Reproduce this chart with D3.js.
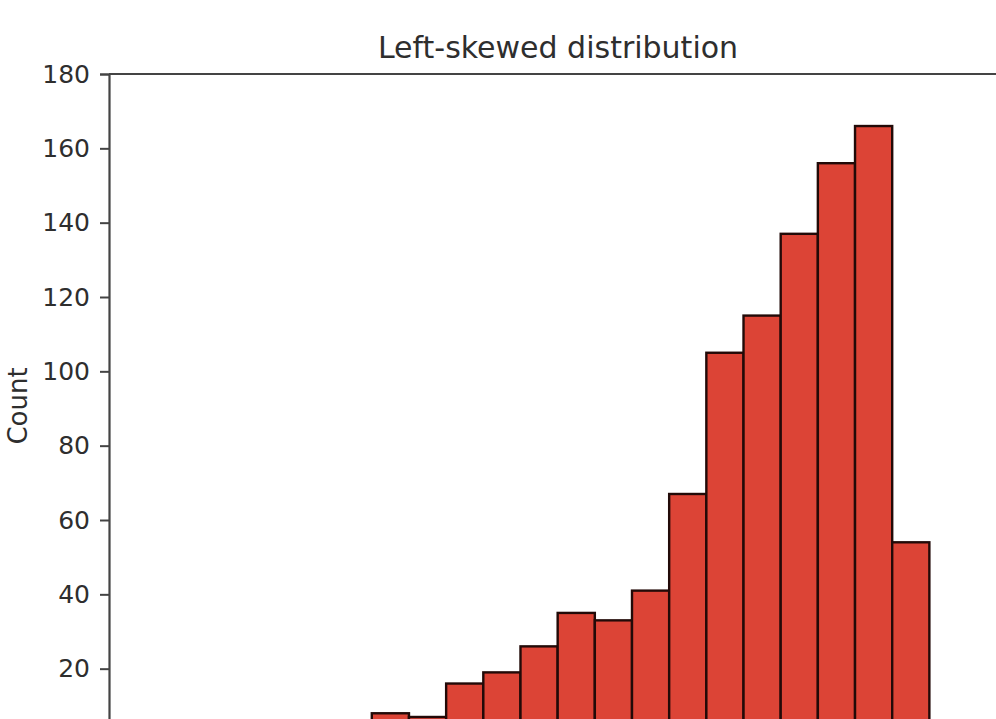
<!DOCTYPE html>
<html>
<head>
<meta charset="utf-8">
<script src="https://cdn.jsdelivr.net/npm/d3@7"></script>
<style>
  html, body { margin: 0; padding: 0; background: #fff; overflow: hidden; }
  svg { display: block; }
</style>
</head>
<body>
<svg id="chart" width="996" height="719"></svg>
<script>
// Data (bin edges as bin index, counts)
const binStarts = [0, 1, 2, 3, 4, 5, 6, 7, 8, 9, 10, 11, 12, 13, 14];
const counts    = [8, 7, 16, 19, 26, 35, 33, 41, 67, 105, 115, 137, 156, 166, 54];
const yTicks    = [20, 40, 60, 80, 100, 120, 140, 160, 180];
const titleText = "Left-skewed distribution";
const yLabel    = "Count";

(function () {
const svg = d3.select("#chart");
const mLeft = 109, mRight = 1000, mTop = 74, zeroY = 743;

const x = d3.scaleLinear().domain([-7.07, 16.9]).range([mLeft, mRight]);
const y = d3.scaleLinear().domain([0, 180]).range([zeroY, mTop]);

// bars
svg.append("g").selectAll("rect")
  .data(binStarts.map((b, i) => ({ b, c: counts[i] })))
  .join("rect")
  .attr("x", d => x(d.b))
  .attr("width", d => x(d.b + 1) - x(d.b))
  .attr("y", d => y(d.c))
  .attr("height", d => y(0) - y(d.c))
  .attr("fill", "#dc4436")
  .attr("stroke", "#220a08")
  .attr("stroke-width", 2.4);

// y axis
const yAxis = d3.axisLeft(y).tickValues(yTicks).tickSize(9).tickPadding(10);
const gy = svg.append("g").attr("transform", `translate(${mLeft},0)`).call(yAxis);
gy.select(".domain").attr("stroke", "#444").attr("stroke-width", 2.2);
gy.selectAll(".tick line").attr("stroke", "#444").attr("stroke-width", 2);
gy.selectAll(".tick text")
  .attr("fill", "#2e2e2e")
  .style("font-family", "DejaVu Sans, sans-serif")
  .style("font-size", "25px");

// top spine
svg.append("line")
  .attr("x1", mLeft).attr("x2", mRight)
  .attr("y1", mTop).attr("y2", mTop)
  .attr("stroke", "#444").attr("stroke-width", 2.2);

// title
svg.append("text")
  .attr("x", 558).attr("y", 58)
  .attr("text-anchor", "middle")
  .attr("fill", "#2e2e2e")
  .style("font-family", "DejaVu Sans, sans-serif")
  .style("font-size", "30px")
  .text(titleText);

// y label
svg.append("text")
  .attr("transform", "translate(27,406) rotate(-90)")
  .attr("text-anchor", "middle")
  .attr("fill", "#2e2e2e")
  .style("font-family", "DejaVu Sans, sans-serif")
  .style("font-size", "26px")
  .text(yLabel);
})();
</script>
</body>
</html>
